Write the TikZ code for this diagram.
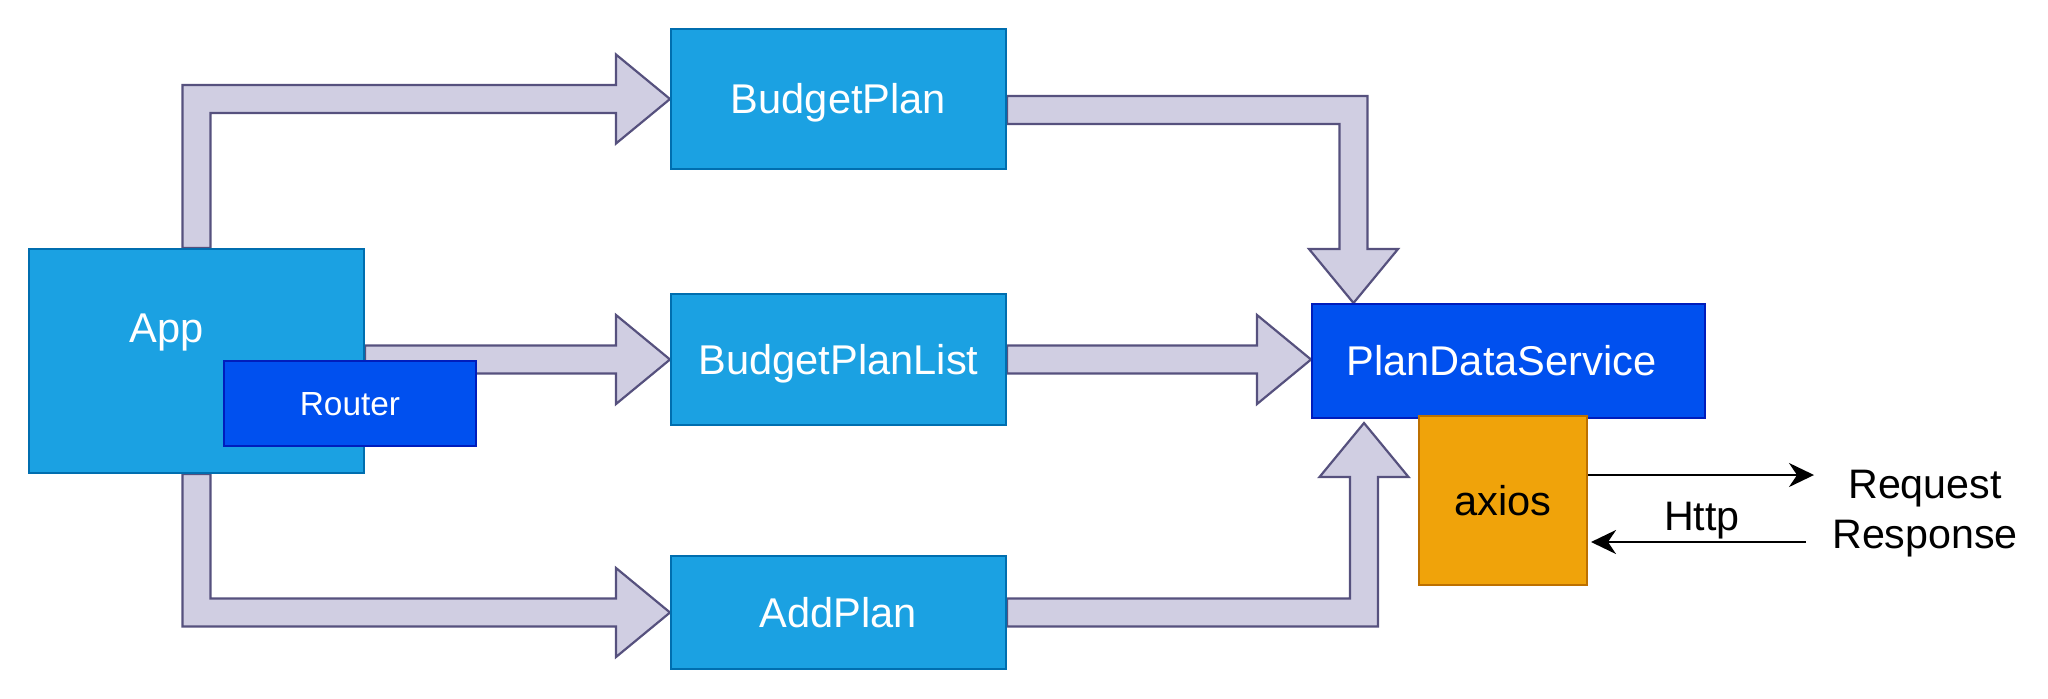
\documentclass[tikz,border=0pt]{standalone}
\usepackage{fontspec}
\setmainfont{Liberation Sans}
\usetikzlibrary{calc,arrows.meta}
\pgfdeclarelayer{background}
\pgfsetlayers{background,main}
\definecolor{cyanfill}{HTML}{1BA1E2}
\definecolor{cyanline}{HTML}{006EAF}
\definecolor{bluefill}{HTML}{0050EF}
\definecolor{blueline}{HTML}{001DBC}
\definecolor{orgfill}{HTML}{F0A30A}
\definecolor{orgline}{HTML}{BD7000}
\definecolor{blkfill}{HTML}{D0CEE2}
\definecolor{blkline}{HTML}{56517E}
\tikzset{
 nodebox/.style={draw, line width=1pt, inner sep=0pt, text height=14.9pt, text depth=0pt, font=\fontsize{20.8}{25}\selectfont},
 cyanbox/.style={nodebox, fill=cyanfill, draw=cyanline, text=white},
 bluebox/.style={nodebox, fill=bluefill, draw=blueline, text=white},
 orgbox/.style={nodebox, fill=orgfill, draw=orgline, text=black},
 blk/.style={fill=blkfill, draw=blkline, line width=1.1pt, line join=miter},
 httparrow/.style={draw=black, line width=1.2pt, -{Stealth[length=12.5pt,width=12pt,inset=4pt]}},
 lbl/.style={anchor=base, inner sep=0pt, font=\fontsize{20.6}{25}\selectfont},
}
\begin{document}
\begin{tikzpicture}[x=0.5pt,y=-0.5pt]
\useasboundingbox (0,0) rectangle (2048,698);
% nodes
\node[cyanbox, minimum width=167.5pt, minimum height=112pt] (app) at (196.5,361) {};
\node[lbl, text=white, font=\fontsize{20.8}{25}\selectfont] (applbl) at (167,342) {App};
\node[bluebox, minimum width=126pt, minimum height=42.5pt, font=\fontsize{16.7}{20}\selectfont, text height=12pt] (router) at (350,403.5) {Router};
\node[cyanbox, minimum width=167.5pt, minimum height=70pt] (bp) at (838.5,99) {BudgetPlan};
\node[cyanbox, minimum width=167.5pt, minimum height=65.5pt] (bpl) at (838.5,359.5) {BudgetPlanList};
\node[cyanbox, minimum width=167.5pt, minimum height=56.5pt] (add) at (838.5,612.5) {AddPlan};
\node[bluebox, minimum width=196.5pt, minimum height=57pt] (pds) at (1508.5,361) {PlanDataService\hspace*{7pt}};
\node[orgbox, minimum width=84pt, minimum height=84.5pt] (axios) at (1503,500.5) {axios};
\node[lbl] (req) at (1925,498) {Request};
\node[lbl] (resp) at (1925,548) {Response};
\node[lbl] (http) at (1702,530) {Http};
% http arrows
\coordinate (reqend) at (1814,475);
\coordinate (respstart) at (1806,542);
\draw[httparrow] (axios.east |- reqend) -- (reqend);
\draw[httparrow] (respstart) -- ($(axios.east |- respstart)+(3,0)$);
% block arrows
\begin{pgfonlayer}{background}
\coordinate (tD) at ($(pds.north west)+(42.5,0)$);
\coordinate (tF) at ($(pds.south west)+(53,4)$);
% App -> BudgetPlan
\path[blk] ($(app.north)+(-14,0)$) |- ($(bp.west)+(-54,-14)$) -- ($(bp.west)+(-54,-44.5)$) -- (bp.west)
  -- ($(bp.west)+(-54,44.5)$) -- ($(bp.west)+(-54,14)$) -| ($(app.north)+(14,0)$) -- cycle;
% App -> BudgetPlanList
\path[blk] ($(app.east |- bpl.west)+(0,-14)$) -- ($(bpl.west)+(-54,-14)$) -- ($(bpl.west)+(-54,-44.5)$) -- (bpl.west)
  -- ($(bpl.west)+(-54,44.5)$) -- ($(bpl.west)+(-54,14)$) -- ($(app.east |- bpl.west)+(0,14)$) -- cycle;
% App -> AddPlan
\path[blk] ($(app.south)+(-14,0)$) |- ($(add.west)+(-54,14)$) -- ($(add.west)+(-54,44.5)$) -- (add.west)
  -- ($(add.west)+(-54,-44.5)$) -- ($(add.west)+(-54,-14)$) -| ($(app.south)+(14,0)$) -- cycle;
% BudgetPlan -> PlanDataService
\path[blk] ($(bp.east)+(0,-3)$) -| ($(tD)+(14,-54)$) -- ($(tD)+(44.5,-54)$) -- (tD)
  -- ($(tD)+(-44.5,-54)$) -- ($(tD)+(-14,-54)$) |- ($(bp.east)+(0,25)$) -- cycle;
% BudgetPlanList -> PlanDataService
\path[blk] ($(bpl.east)+(0,-14)$) -- ($(pds.west |- bpl.east)+(-54,-14)$) -- ($(pds.west |- bpl.east)+(-54,-44.5)$) -- (pds.west |- bpl.east)
  -- ($(pds.west |- bpl.east)+(-54,44.5)$) -- ($(pds.west |- bpl.east)+(-54,14)$) -- ($(bpl.east)+(0,14)$) -- cycle;
% AddPlan -> PlanDataService
\path[blk] ($(add.east)+(0,14)$) -| ($(tF)+(14,54)$) -- ($(tF)+(44.5,54)$) -- (tF)
  -- ($(tF)+(-44.5,54)$) -- ($(tF)+(-14,54)$) |- ($(add.east)+(0,-14)$) -- cycle;
\end{pgfonlayer}
\end{tikzpicture}
\end{document}
